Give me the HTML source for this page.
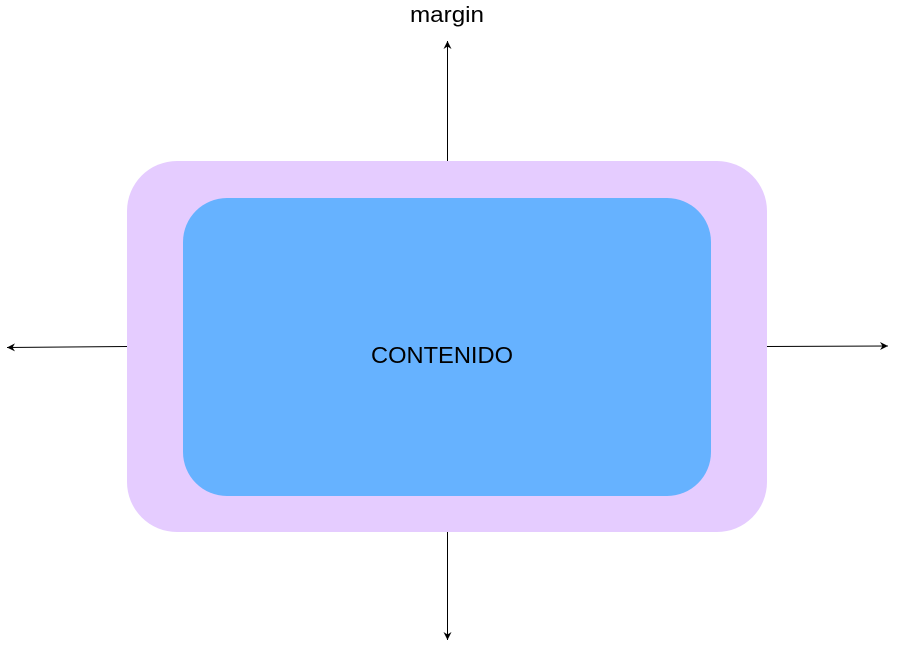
<!DOCTYPE html>
<html><head><meta charset="utf-8"><style>
html,body{margin:0;padding:0;background:#fff;width:897px;height:650px;overflow:hidden}
svg text{font-family:"Liberation Sans",Arial,sans-serif}
</style></head><body>
<svg width="897" height="650" viewBox="0 0 897 650" xmlns="http://www.w3.org/2000/svg">
<defs><marker id="a" markerWidth="10" markerHeight="10" refX="8" refY="5" orient="auto" markerUnits="userSpaceOnUse"><path d="M0,1 L8,5 L0,9 L2.5,5 Z" fill="#000"/></marker></defs>
<rect x="127" y="161" width="640" height="371" rx="50" ry="50" fill="#e5ccff"/>
<rect x="183" y="198" width="528" height="298" rx="44" ry="44" fill="#66b2ff"/>
<text x="371" y="363" font-size="23" textLength="142" lengthAdjust="spacingAndGlyphs" fill="#000">CONTENIDO</text>
<text x="410" y="22" font-size="22" textLength="74" lengthAdjust="spacingAndGlyphs" fill="#000">margin</text>
<g stroke="#000" stroke-width="1" fill="none">
<line x1="447.5" y1="161" x2="447.5" y2="41" marker-end="url(#a)"/>
<line x1="447.5" y1="532" x2="447.5" y2="640" marker-end="url(#a)"/>
<line x1="127" y1="346.5" x2="7" y2="347.5" marker-end="url(#a)"/>
<line x1="767" y1="346.5" x2="888" y2="346" marker-end="url(#a)"/>
</g>
</svg>
</body></html>
